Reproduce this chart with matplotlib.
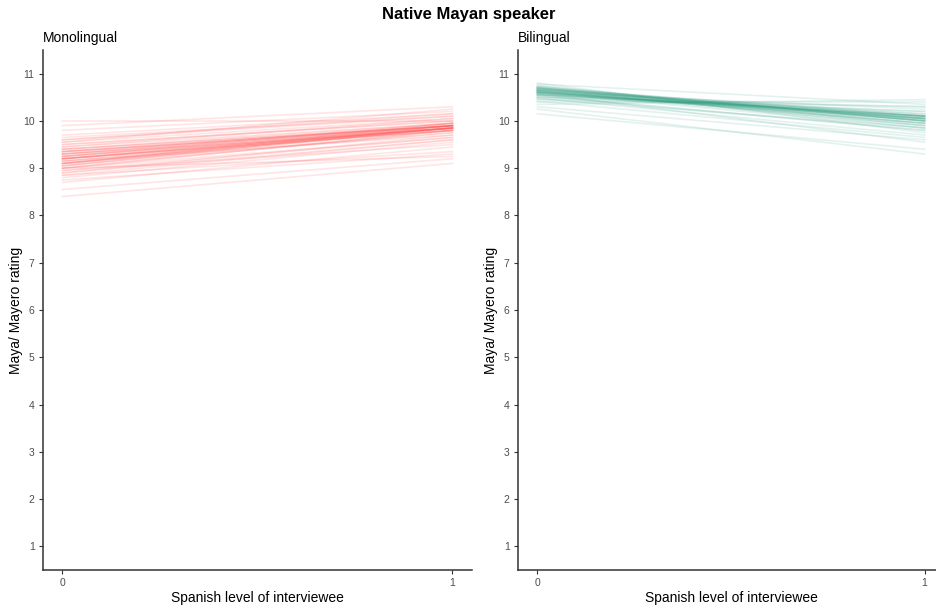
import numpy as np
import matplotlib
matplotlib.use("Agg")
import matplotlib.pyplot as plt

plt.rcParams["font.family"] = ["Liberation Sans", "DejaVu Sans"]

# posterior draws: predicted rating at spanish level 0 and 1
mono_start = [9.2, 9.0, 9.4, 9.1, 9.3, 8.9, 9.5, 9.25, 9.15, 9.05, 8.8, 9.35, 9.6, 9.2, 9.0,
              9.45, 8.95, 9.3, 9.1, 9.7, 8.7, 9.25, 9.4, 9.15, 9.55, 8.85, 9.2, 9.35, 9.05, 9.8,
              8.4, 8.55, 10.0, 9.9, 9.1, 9.3, 9.0, 9.5, 9.2, 8.75, 9.65, 9.1, 9.4, 9.25, 8.9,
              9.15, 9.35, 9.55, 9.0, 9.2, 9.1, 9.3, 8.95, 9.45, 9.25, 9.05, 9.6, 8.85, 9.35, 9.2]
mono_end = [9.85, 9.8, 9.9, 9.75, 9.95, 9.6, 10.0, 9.85, 9.7, 9.9, 9.55, 9.9, 10.1, 9.8, 9.65,
            9.95, 9.5, 9.85, 9.9, 10.15, 9.45, 9.85, 9.95, 9.8, 10.05, 9.35, 9.9, 9.85, 9.75, 10.2,
            9.1, 9.2, 10.0, 10.3, 9.85, 9.9, 9.8, 10.0, 9.85, 9.3, 10.1, 9.85, 9.9, 9.95, 9.7,
            9.85, 9.9, 10.25, 9.25, 9.85, 9.95, 9.8, 9.65, 10.05, 9.9, 9.85, 10.15, 9.6, 9.9, 9.8]
bil_start = [10.65, 10.6, 10.7, 10.55, 10.62, 10.68, 10.5, 10.75, 10.58, 10.64, 10.45, 10.7,
             10.6, 10.66, 10.52, 10.72, 10.4, 10.63, 10.57, 10.8, 10.35, 10.67, 10.61, 10.55,
             10.7, 10.3, 10.62, 10.65, 10.48, 10.78, 10.15, 10.25, 10.6, 10.7, 10.55, 10.64,
             10.58, 10.74, 10.66, 10.42, 10.6, 10.68, 10.5, 10.63, 10.56, 10.72, 10.59, 10.66,
             10.47, 10.69, 10.62, 10.54]
bil_end = [10.05, 10.1, 10.0, 10.15, 9.95, 10.05, 10.2, 9.9, 10.1, 10.0, 10.3, 9.85, 10.05,
           10.1, 9.8, 10.0, 10.4, 9.95, 10.1, 9.75, 10.45, 10.05, 9.9, 10.2, 10.1, 9.6, 10.0,
           10.05, 9.7, 10.35, 9.4, 9.3, 10.25, 9.95, 10.05, 10.1, 9.55, 10.0, 10.15, 9.65,
           9.85, 10.05, 10.3, 9.95, 10.1, 10.0, 10.08, 9.9, 9.85, 10.12, 10.02, 9.8]

spanish = [0, 1]
yticks = list(range(1, 12))

fig = plt.figure(figsize=(9.37, 6.05), dpi=100)
ax1 = fig.add_axes([43/937, 35/605, 429/937, 520/605])
ax2 = fig.add_axes([518/937, 35/605, 426/937, 520/605])

panels = [(ax1, mono_start, mono_end, "#FF3B3B", "Monolingual"),
          (ax2, bil_start, bil_end, "#2E9E80", "Bilingual")]

for ax, s, e, col, name in panels:
    for a, b in zip(s, e):
        ax.plot(spanish, [a, b], color=col, alpha=0.13, lw=1.2)
    ax.set_xlim(-0.05, 1.05)
    ax.set_ylim(0.5, 11.5)
    ax.set_xticks([0, 1])
    ax.set_yticks(yticks)
    ax.spines["top"].set_visible(False)
    ax.spines["right"].set_visible(False)
    for sp in ["left", "bottom"]:
        ax.spines[sp].set_linewidth(1.1)
        ax.spines[sp].set_color("#333333")
    ax.tick_params(labelsize=7.5, labelcolor="#4D4D4D", length=3, color="#333333", pad=3)
    ax.set_xlabel("Spanish level of interviewee", fontsize=10, labelpad=2)
    ax.set_ylabel("Maya/ Mayero rating", fontsize=10, labelpad=0)
    ax.set_title(name, loc="left", fontsize=10, pad=6)

fig.text(0.5, 0.976, "Native Mayan speaker", ha="center", va="center",
         fontsize=12, fontweight="bold")

fig.savefig("out.png", dpi=100)
